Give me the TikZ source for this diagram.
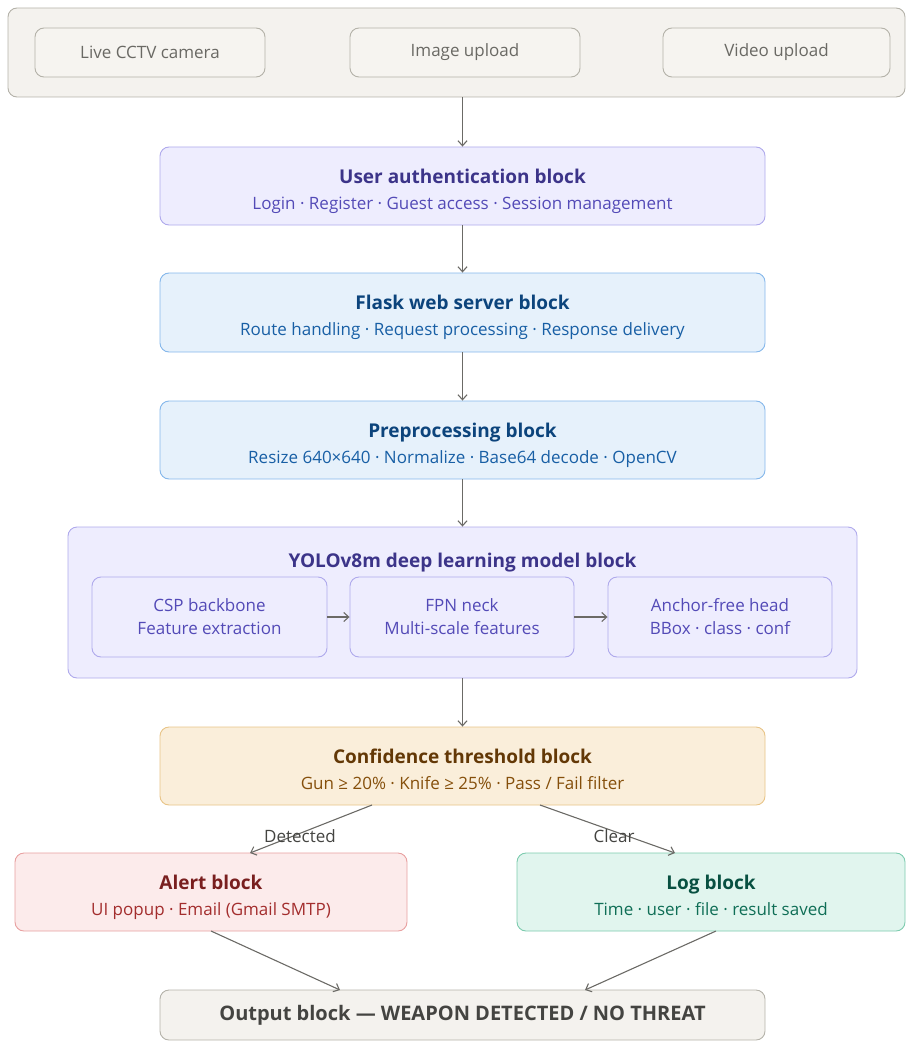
\documentclass[tikz,border=0pt]{standalone}
\usepackage{fontspec}
\setmainfont{Open Sans}
\usetikzlibrary{arrows.meta}
\definecolor{grayfill}{HTML}{F4F2EE}
\definecolor{grayin}{HTML}{F6F4F0}
\definecolor{graydraw}{HTML}{B4B2A9}
\definecolor{graytext}{HTML}{6A6964}
\definecolor{graydark}{HTML}{444441}
\definecolor{purfill}{HTML}{EEEDFE}
\definecolor{purdraw}{HTML}{AFA9EC}
\definecolor{purtitle}{HTML}{3C3489}
\definecolor{pursub}{HTML}{534AB7}
\definecolor{bluefill}{HTML}{E6F1FB}
\definecolor{bluedraw}{HTML}{85B7EB}
\definecolor{bluetitle}{HTML}{0C447C}
\definecolor{bluesub}{HTML}{185FA5}
\definecolor{ambfill}{HTML}{FAEEDA}
\definecolor{ambdraw}{HTML}{E8C487}
\definecolor{ambtitle}{HTML}{633806}
\definecolor{ambsub}{HTML}{854F0B}
\definecolor{redfill}{HTML}{FCEBEB}
\definecolor{reddraw}{HTML}{E8A0A0}
\definecolor{redtitle}{HTML}{791F1F}
\definecolor{redsub}{HTML}{A32D2D}
\definecolor{grnfill}{HTML}{E1F5EE}
\definecolor{grndraw}{HTML}{7CCBAE}
\definecolor{grntitle}{HTML}{085041}
\definecolor{grnsub}{HTML}{0F6E56}
\definecolor{arrowc}{HTML}{6B6A66}
\newcommand{\ttl}{\fontsize{19}{22}\selectfont\bfseries}
\newcommand{\sbt}{\fontsize{17}{23}\selectfont}
% #1 box name, #2 title colour, #3 sub colour, #4 title, #5 subtitle
\newcommand{\blocktext}[5]{%
  \node[ttltxt, text=#2] (#1-t) at (#1.center) [yshift=3pt] {#4};
  \node[subtxt, text=#3] (#1-s) at (#1.center) [yshift=-23pt] {#5};}
\tikzset{
  blk/.style={rectangle, rounded corners=9pt, line width=0.9pt, align=center, inner sep=0pt},
  ttltxt/.style={font=\ttl, anchor=base, inner sep=0pt},
  subtxt/.style={font=\sbt, anchor=base, inner sep=0pt},
  inbox/.style={blk, fill=grayin, draw=graydraw, text=graytext, font=\sbt, minimum height=49pt},
  subbox/.style={blk, fill=purfill, draw=purdraw, text=pursub, font=\sbt, minimum width=232pt, minimum height=80pt},
  arr/.style={draw=arrowc, line width=1.1pt, -{Straight Barb[length=5pt,width=9pt]}},
  elab/.style={font=\sbt, text=graydark, inner sep=1pt}
}
\begin{document}
\begin{tikzpicture}[x=1pt,y=-1pt]
\useasboundingbox (0,0) rectangle (907,1043);
% input container
\node[blk, fill=grayfill, draw=graydraw, minimum width=897pt, minimum height=89pt] (inp) at (456.5,52.5) {};
\node[inbox, minimum width=230pt] (cctv) at (150,52.5) {Live CCTV camera};
\node[inbox, minimum width=230pt] (img) at (465,52.5) {Image upload};
\node[inbox, minimum width=227pt] (vid) at (776.5,52.5) {Video upload};
% main blocks
\node[blk, fill=purfill, draw=purdraw, minimum width=605pt, minimum height=78pt] (auth) at (462.5,186) {};
\blocktext{auth}{purtitle}{pursub}{User authentication block}{Login · Register · Guest access · Session management}
\node[blk, fill=bluefill, draw=bluedraw, minimum width=605pt, minimum height=79pt] (flask) at (462.5,312.5) {};
\blocktext{flask}{bluetitle}{bluesub}{Flask web server block}{Route handling · Request processing · Response delivery}
\node[blk, fill=bluefill, draw=bluedraw, minimum width=605pt, minimum height=78pt] (pre) at (462.5,440) {};
\blocktext{pre}{bluetitle}{bluesub}{Preprocessing block}{Resize 640×640 · Normalize · Base64 decode · OpenCV}
% YOLO
\node[blk, fill=purfill, draw=purdraw, minimum width=789pt, minimum height=151pt] (yolo) at (462.5,602.5) {};
\node[ttltxt, text=purtitle] (yolot) at (462.5,567) {YOLOv8m deep learning model block};
\node[subbox, minimum width=235pt] (csp) at (209.5,617) {CSP backbone\\Feature extraction};
\node[subbox, minimum width=224pt] (fpn) at (462,617) {FPN neck\\Multi-scale features};
\node[subbox, minimum width=224pt] (head) at (720,617) {Anchor-free head\\BBox · class · conf};
% confidence
\node[blk, fill=ambfill, draw=ambdraw, minimum width=605pt, minimum height=78pt] (conf) at (462.5,766) {};
\blocktext{conf}{ambtitle}{ambsub}{Confidence threshold block}{Gun ≥ 20\% · Knife ≥ 25\% · Pass / Fail filter}
% alert & log
\node[blk, fill=redfill, draw=reddraw, minimum width=392pt, minimum height=78pt] (alert) at (211,892) {};
\blocktext{alert}{redtitle}{redsub}{Alert block}{UI popup · Email (Gmail SMTP)}
\node[blk, fill=grnfill, draw=grndraw, minimum width=388pt, minimum height=78pt] (log) at (711,892) {};
\blocktext{log}{grntitle}{grnsub}{Log block}{Time · user · file · result saved}
% output
\node[blk, fill=grayfill, draw=graydraw, text=graydark, font={\fontsize{20}{24}\selectfont\bfseries}, minimum width=605pt, minimum height=50pt] (out) at (462.5,1015)
  {Output block — WEAPON DETECTED / NO THREAT};
% connectors
\draw[arr] (inp.south -| auth.north) -- (auth.north);
\draw[arr] (auth) -- (flask);
\draw[arr] (flask) -- (pre);
\draw[arr] (pre.south) -- (yolo.north -| pre.south);
\draw[arr] (csp) -- (fpn);
\draw[arr] (fpn) -- (head);
\draw[arr] (yolo.south -| conf.north) -- (conf.north);
\coordinate (cd) at (372,805);
\coordinate (cc) at (540,805);
\coordinate (ad) at (250,853);
\coordinate (lc) at (675,853);
\draw[arr] (cd) -- (ad);
\draw[arr] (cc) -- (lc);
\node[elab] (ldet) at (300,836) {Detected};
\node[elab] (lclr) at (614,836) {Clear};
\coordinate (ao) at (211,931);
\coordinate (lo) at (716,931);
\coordinate (oa) at (340,990);
\coordinate (ol) at (585,990);
\draw[arr] (ao) -- (oa);
\draw[arr] (lo) -- (ol);
\end{tikzpicture}
\end{document}
